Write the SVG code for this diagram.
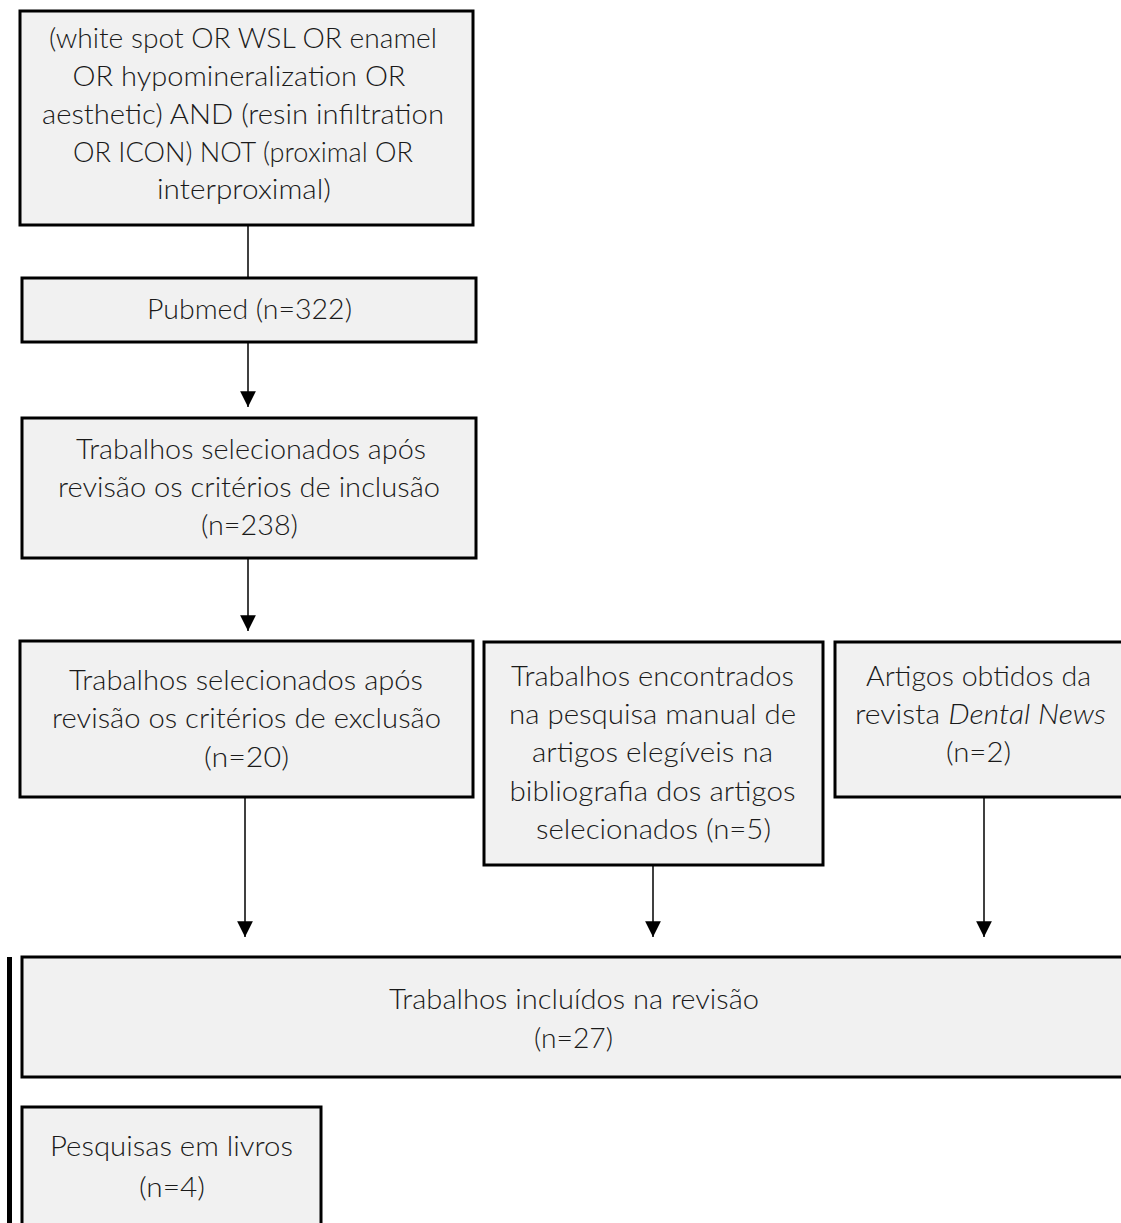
<svg xmlns="http://www.w3.org/2000/svg" width="1121" height="1223" viewBox="0 0 1121 1223">
<defs>
<style>
.box{fill:#f1f1f1;stroke:#000;stroke-width:3}
.t{font-family:Lato,"Open Sans","Liberation Sans",sans-serif;font-weight:300;font-size:27px;fill:#1a1a1a;text-anchor:middle}
.c{stroke:#000;stroke-width:1.5;fill:none}
</style>
<marker id="ah" viewBox="0 0 10 10" refX="10" refY="5" markerWidth="10.5" markerHeight="10.5" markerUnits="strokeWidth" orient="auto">
<path d="M0,0 L10,5 L0,10 Z" fill="#000"/>
</marker>
</defs>
<rect width="1121" height="1223" fill="#fff"/>
<g id="connectors">
<line class="c" x1="248" y1="225" x2="248" y2="278"/>
<line class="c" x1="248" y1="342" x2="248" y2="407" marker-end="url(#ah)"/>
<line class="c" x1="248" y1="558" x2="248" y2="631" marker-end="url(#ah)"/>
<line class="c" x1="245" y1="797" x2="245" y2="937" marker-end="url(#ah)"/>
<line class="c" x1="653" y1="865" x2="653" y2="937" marker-end="url(#ah)"/>
<line class="c" x1="984" y1="797" x2="984" y2="937" marker-end="url(#ah)"/>
<line x1="9.5" y1="957" x2="9.5" y2="1223" stroke="#000" stroke-width="5"/>
</g>
<g id="n1">
<rect class="box" x="20" y="11" width="453" height="214"/>
<text class="t" x="243" y="48" textLength="388" lengthAdjust="spacingAndGlyphs">(white spot OR WSL OR enamel</text>
<text class="t" x="239" y="86" textLength="333" lengthAdjust="spacingAndGlyphs">OR hypomineralization OR</text>
<text class="t" x="243" y="124" textLength="402" lengthAdjust="spacingAndGlyphs">aesthetic) AND (resin infiltration</text>
<text class="t" x="243" y="161.5" textLength="340" lengthAdjust="spacingAndGlyphs">OR ICON) NOT (proximal OR</text>
<text class="t" x="244" y="199" textLength="174" lengthAdjust="spacingAndGlyphs">interproximal)</text>
</g>
<g id="n2">
<rect class="box" x="22" y="278" width="454" height="64"/>
<text class="t" x="249.5" y="319" textLength="205" lengthAdjust="spacingAndGlyphs">Pubmed (n=322)</text>
</g>
<g id="n3">
<rect class="box" x="22" y="418" width="454" height="140"/>
<text class="t" x="251" y="458.5" textLength="350" lengthAdjust="spacingAndGlyphs">Trabalhos selecionados após</text>
<text class="t" x="249" y="496.5" textLength="382" lengthAdjust="spacingAndGlyphs">revisão os critérios de inclusão</text>
<text class="t" x="249.5" y="534.5" textLength="97" lengthAdjust="spacingAndGlyphs">(n=238)</text>
</g>
<g id="n4">
<rect class="box" x="20" y="641" width="453" height="156"/>
<text class="t" x="246" y="690" textLength="354" lengthAdjust="spacingAndGlyphs">Trabalhos selecionados após</text>
<text class="t" x="246.5" y="728" textLength="389" lengthAdjust="spacingAndGlyphs">revisão os critérios de exclusão</text>
<text class="t" x="246.5" y="767" textLength="85" lengthAdjust="spacingAndGlyphs">(n=20)</text>
</g>
<g id="n5">
<rect class="box" x="484" y="642" width="339" height="223"/>
<text class="t" x="652.5" y="686" textLength="283" lengthAdjust="spacingAndGlyphs">Trabalhos encontrados</text>
<text class="t" x="652.5" y="724" textLength="287" lengthAdjust="spacingAndGlyphs">na pesquisa manual de</text>
<text class="t" x="652.5" y="762" textLength="241" lengthAdjust="spacingAndGlyphs">artigos elegíveis na</text>
<text class="t" x="652.5" y="801" textLength="286" lengthAdjust="spacingAndGlyphs">bibliografia dos artigos</text>
<text class="t" x="653.5" y="839" textLength="235" lengthAdjust="spacingAndGlyphs">selecionados (n=5)</text>
</g>
<g id="n6">
<rect class="box" x="835" y="642" width="292" height="155"/>
<text class="t" x="978.5" y="686" textLength="225" lengthAdjust="spacingAndGlyphs">Artigos obtidos da</text>
<text class="t" x="980.5" y="724" textLength="251" lengthAdjust="spacingAndGlyphs">revista <tspan font-style="italic">Dental News</tspan></text>
<text class="t" x="978.5" y="762" textLength="65" lengthAdjust="spacingAndGlyphs">(n=2)</text>
</g>
<g id="n7">
<rect class="box" x="22" y="957" width="1106" height="120"/>
<text class="t" x="574" y="1009" textLength="370" lengthAdjust="spacingAndGlyphs">Trabalhos incluídos na revisão</text>
<text class="t" x="573.5" y="1048" textLength="79" lengthAdjust="spacingAndGlyphs">(n=27)</text>
</g>
<g id="n8">
<rect class="box" x="22" y="1107" width="299" height="130"/>
<text class="t" x="171.5" y="1156" textLength="243" lengthAdjust="spacingAndGlyphs">Pesquisas em livros</text>
<text class="t" x="172" y="1197" textLength="66" lengthAdjust="spacingAndGlyphs">(n=4)</text>
</g>
</svg>
